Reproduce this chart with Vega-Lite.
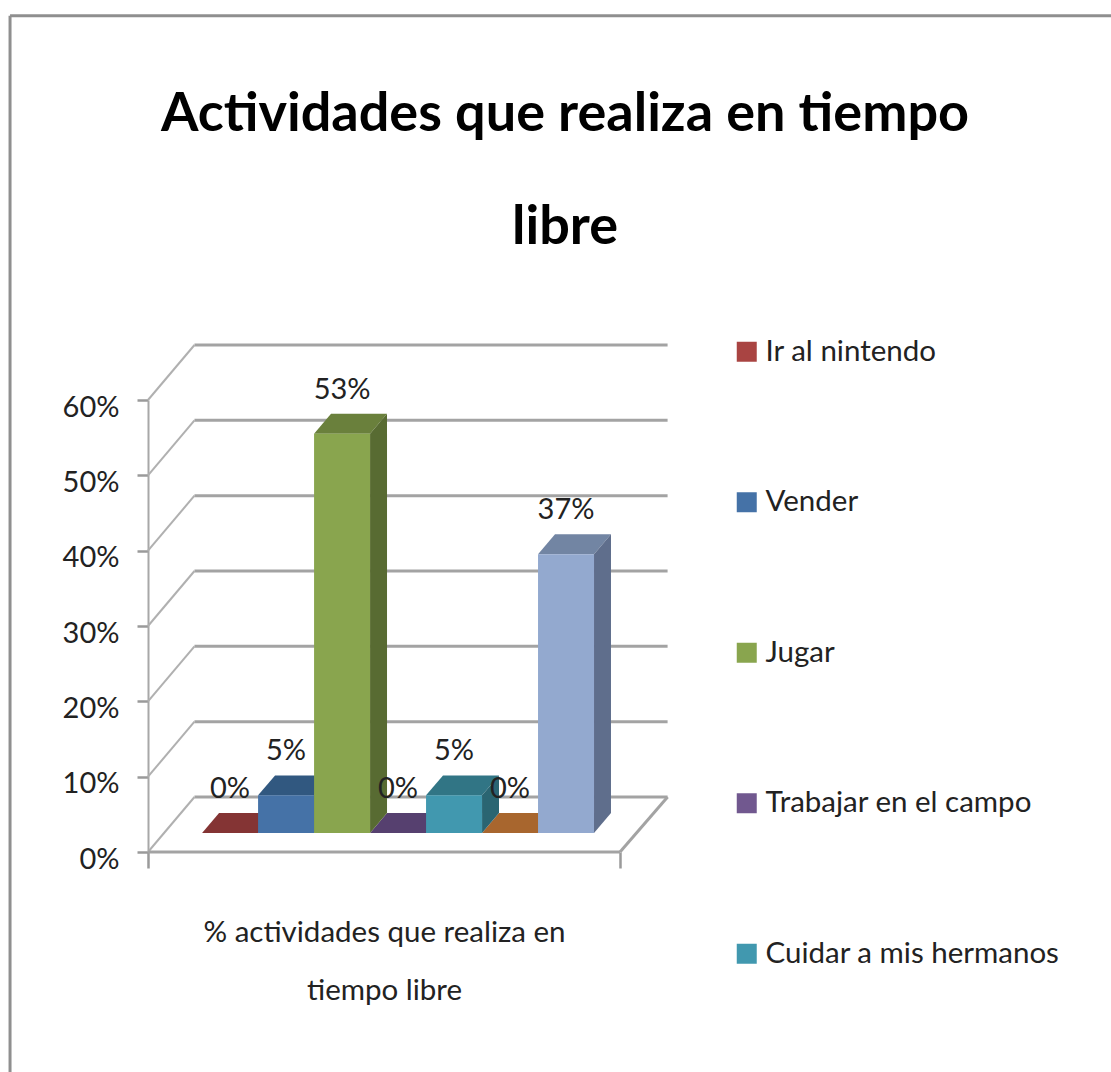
{
"$schema":"https://vega.github.io/schema/vega-lite/v6.json",
"width":472,"height":452,
"autosize":{"type":"none"},
"padding":{"left":148,"top":400,"right":491,"bottom":220},
"background":"white",
"config":{"view":{"stroke":null},"font":"Lato"},
"title":{"text":["Actividades que realiza en tiempo","libre"],"font":"Lato","fontSize":54,"fontWeight":"bold","color":"#000000","lineHeight":113,"anchor":"middle","dx":181,"offset":-241},
"datasets":{
"barras":[
{"serie":"Ir al nintendo","valor":0,"pos":0},
{"serie":"Vender","valor":0.05,"pos":1},
{"serie":"Jugar","valor":0.53,"pos":2},
{"serie":"Trabajar en el campo","valor":0,"pos":3},
{"serie":"Cuidar a mis hermanos","valor":0.05,"pos":4},
{"serie":"Serie 6","valor":0,"pos":5},
{"serie":"Serie 7","valor":0.37,"pos":6}
],
"rejilla":[{"p":0},{"p":0.1},{"p":0.2},{"p":0.3},{"p":0.4},{"p":0.5},{"p":0.6}],
"piso":[
{"x":-0.68,"y":0,"x2":7.75,"y2":0},
{"x":7.75,"y":0,"x2":8.6,"y2":0.073}
],
"marco":[
{"x":-3.144,"y":1.11,"x2":16.52,"y2":1.11},
{"x":-3.144,"y":1.11,"x2":-3.144,"y2":-0.292}
]
},
"layer":[
{"data":{"name":"marco"},"mark":{"type":"rule","color":"#8f8f8f","strokeWidth":3,"clip":false},
"encoding":{"x":{"field":"x","type":"quantitative","scale":{"domain":[-0.68,7.75],"nice":false,"zero":false},
"axis":{"title":["% actividades que realiza en","tiempo libre"],"titleFont":"Lato","titleFontSize":29.5,"titleFontWeight":"normal","titleColor":"#222222","titleLineHeight":58,"titlePadding":49,"labels":false,"grid":false,"values":[-0.68,7.75],"tickSize":16,"tickColor":"#9a9a9a","tickWidth":2.5,"domain":false}},
"x2":{"field":"x2"},
"y":{"field":"y","type":"quantitative","scale":{"domain":[0,0.6],"nice":false},
"axis":{"title":null,"format":".0%","values":[0,0.1,0.2,0.3,0.4,0.5,0.6],"grid":false,"labelFont":"Lato","labelFontSize":29,"labelColor":"#222222","labelPadding":18,"labelOffset":7,"tickSize":11,"tickColor":"#9a9a9a","tickWidth":2.5,"domainColor":"#a8a8a8","domainWidth":2}},
"y2":{"field":"y2"}}},
{"data":{"name":"rejilla"},"transform":[{"calculate":"datum.p+0.073","as":"q"},{"calculate":"0.15","as":"b"},{"calculate":"8.6","as":"c"}],
"mark":{"type":"rule","color":"#a3a3a3","strokeWidth":3},
"encoding":{"x":{"field":"b","type":"quantitative"},"x2":{"field":"c"},"y":{"field":"q","type":"quantitative"}}},
{"data":{"name":"rejilla"},"transform":[{"calculate":"datum.p+0.073","as":"q"},{"calculate":"-0.68","as":"a"},{"calculate":"0.15","as":"b"}],
"mark":{"type":"rule","color":"#b0b0b0","strokeWidth":2},
"encoding":{"x":{"field":"a","type":"quantitative"},"x2":{"field":"b"},"y":{"field":"p","type":"quantitative"},"y2":{"field":"q"}}},
{"data":{"name":"piso"},"mark":{"type":"rule","color":"#a3a3a3","strokeWidth":3},
"encoding":{"x":{"field":"x","type":"quantitative"},"x2":{"field":"x2"},"y":{"field":"y","type":"quantitative"},"y2":{"field":"y2"}}},
{"data":{"name":"barras"},
"transform":[
{"calculate":"[datum.pos+0.286,datum.pos+0.589,datum.pos+1.286,datum.pos+1.589]","as":"vx"},
{"calculate":"[datum.valor+0.0252,datum.valor+0.0517,datum.valor+0.0517,datum.valor+0.0517]","as":"vt"},
{"calculate":"[datum.valor+0.0252,datum.valor+0.0252,datum.valor+0.0252,datum.valor+0.0517]","as":"vb"},
{"flatten":["vx","vt","vb"]}],
"mark":{"type":"area"},
"encoding":{"x":{"field":"vx","type":"quantitative"},"y":{"field":"vt","type":"quantitative","stack":null},"y2":{"field":"vb"},
"color":{"field":"serie","type":"nominal","legend":null,"scale":{"domain":["Ir al nintendo","Vender","Jugar","Trabajar en el campo","Cuidar a mis hermanos","Serie 6","Serie 7"],"range":["#843434","#315880","#6A803C","#56406F","#317585","#A8662E","#7285A3"]}}}},
{"data":{"name":"barras"},
"transform":[
{"calculate":"[datum.pos+1.286,datum.pos+1.589]","as":"vx"},
{"calculate":"[datum.valor+0.0252,datum.valor+0.0517]","as":"vt"},
{"calculate":"[0.0252,0.0517]","as":"vb"},
{"flatten":["vx","vt","vb"]}],
"mark":{"type":"area"},
"encoding":{"x":{"field":"vx","type":"quantitative"},"y":{"field":"vt","type":"quantitative","stack":null},"y2":{"field":"vb"},
"color":{"field":"serie","type":"nominal","legend":null,"scale":{"domain":["Ir al nintendo","Vender","Jugar","Trabajar en el campo","Cuidar a mis hermanos","Serie 6","Serie 7"],"range":["#6E2C2C","#2A4A6C","#586B32","#483560","#2A6572","#8E5626","#5F6E8C"]}}}},
{"data":{"name":"barras"},
"transform":[{"calculate":"datum.pos+0.286","as":"x0"},{"calculate":"datum.pos+1.286","as":"x1"},{"calculate":"datum.valor+0.0252","as":"tope"},{"calculate":"0.0252","as":"base"}],
"mark":{"type":"rect"},
"encoding":{"x":{"field":"x0","type":"quantitative"},"x2":{"field":"x1"},"y":{"field":"tope","type":"quantitative"},"y2":{"field":"base"},
"color":{"field":"serie","type":"nominal","scale":{"domain":["Ir al nintendo","Vender","Jugar","Trabajar en el campo","Cuidar a mis hermanos","Serie 6","Serie 7"],"range":["#A94442","#4572A7","#89A54E","#71588F","#4198AF","#DB843D","#93A9CF"]},
"legend":{"title":null,"orient":"none","legendX":584,"legendY":-63,"values":["Ir al nintendo","Vender","Jugar","Trabajar en el campo","Cuidar a mis hermanos"],"symbolType":"square","symbolSize":400,"symbolStrokeWidth":0,"labelFont":"Lato","labelFontSize":29.5,"labelColor":"#222222","labelLimit":400,"labelOffset":4,"rowPadding":119.5}}}},
{"data":{"name":"barras"},
"transform":[{"calculate":"datum.pos+0.786","as":"cx"},{"calculate":"datum.valor+0.0517+0.032","as":"cy"}],
"mark":{"type":"text","font":"Lato","fontSize":29,"color":"#222222","baseline":"middle","align":"center"},
"encoding":{"x":{"field":"cx","type":"quantitative"},"y":{"field":"cy","type":"quantitative"},"text":{"field":"valor","type":"quantitative","format":".0%"}}}
],
"resolve":{"scale":{"color":"independent"}}
}
